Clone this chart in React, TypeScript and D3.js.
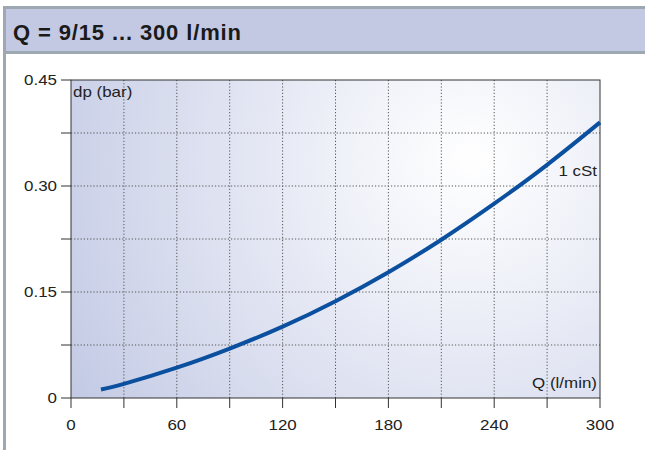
import React from "react";
import * as d3 from "d3";

const flowQ = [17, 30, 60, 90, 120, 150, 180, 210, 240, 270, 300];
const dpBar = [0.012, 0.02, 0.043, 0.07, 0.101, 0.137, 0.178, 0.224, 0.275, 0.33, 0.39];
const xTickValues = [0, 60, 120, 180, 240, 300];
const xMinorTicks = [0, 30, 60, 90, 120, 150, 180, 210, 240, 270, 300];
const yTickValues = [0, 0.15, 0.3, 0.45];
const yTickLabels = ["0", "0.15", "0.30", "0.45"];
const yMinorTicks = [0, 0.075, 0.15, 0.225, 0.3, 0.375, 0.45];
const title = "Q = 9/15 ... 300 l/min";
const curveLabel = "1 cSt";
const xAxisLabel = "Q (l/min)";
const yAxisLabel = "dp (bar)";

const SX = 1.13;

function Label(props: {
  x: number;
  y: number;
  anchor?: "start" | "middle" | "end";
  children: React.ReactNode;
}) {
  return (
    <text
      transform={`translate(${props.x},${props.y}) scale(${SX},1)`}
      textAnchor={props.anchor || "start"}
      fontFamily="'Liberation Sans', Arial, Helvetica, sans-serif"
      fontSize={15}
      fill="#222"
    >
      {props.children}
    </text>
  );
}

export default function App() {
  const W = 645, H = 450;
  const left = 71, right = 600, top = 80, bottom = 398;
  const x = d3.scaleLinear().domain([0, 300]).range([left, right]);
  const y = d3.scaleLinear().domain([0, 0.45]).range([bottom, top]);
  const line = d3
    .line<number>()
    .x((_, i) => x(flowQ[i]))
    .y((d) => y(d))
    .curve(d3.curveNatural);
  const axisColor = "#333";
  return (
    <svg
      width={W}
      height={H}
      style={{ position: "absolute", left: 0, top: 0, background: "#fff" }}
    >
      <defs>
        <radialGradient id="bg" gradientUnits="userSpaceOnUse" cx={470} cy={160} r={470}>
          <stop offset="0" stopColor="#ffffff" />
          <stop offset="0.3" stopColor="#eef0f8" />
          <stop offset="1" stopColor="#c2c9e4" />
        </radialGradient>
      </defs>
      {/* header */}
      <rect x={3} y={6} width={W} height={3} fill="#9ea8b3" />
      <rect x={6} y={9} width={W} height={42} fill="#c3c9e2" />
      <rect x={6} y={51} width={W} height={3} fill="#9ea8b3" />
      <rect x={3} y={6} width={3} height={H} fill="#9ea8b3" />
      <text
        x={13}
        y={39.5}
        fontFamily="'Liberation Sans', Arial, sans-serif"
        fontWeight="bold"
        fontSize={22}
        textLength={228}
        lengthAdjust="spacing"
        fill="#1a1a1a"
      >
        {title}
      </text>
      {/* plot background */}
      <rect x={left} y={top} width={right - left} height={bottom - top} fill="url(#bg)" />
      {/* grid */}
      {xMinorTicks.slice(1, -1).map((t) => (
        <line
          key={"gx" + t}
          x1={x(t)}
          x2={x(t)}
          y1={top}
          y2={bottom}
          stroke="#555"
          strokeWidth={1}
          strokeDasharray="1.2 2"
        />
      ))}
      {yMinorTicks.slice(1, -1).map((t) => (
        <line
          key={"gy" + t}
          x1={left}
          x2={right}
          y1={y(t)}
          y2={y(t)}
          stroke="#555"
          strokeWidth={1}
          strokeDasharray="1.2 2"
        />
      ))}
      {/* frame */}
      <rect
        x={left}
        y={top}
        width={right - left}
        height={bottom - top}
        fill="none"
        stroke={axisColor}
        strokeWidth={1}
      />
      {/* ticks */}
      {xMinorTicks.map((t) => (
        <line key={"tx" + t} x1={x(t)} x2={x(t)} y1={bottom} y2={bottom + 10} stroke={axisColor} />
      ))}
      {yMinorTicks.map((t) => (
        <line key={"ty" + t} x1={left - 10} x2={left} y1={y(t)} y2={y(t)} stroke={axisColor} />
      ))}
      {xTickValues.map((t) => (
        <Label key={"lx" + t} x={x(t)} y={430} anchor="middle">
          {t}
        </Label>
      ))}
      {yTickValues.map((t, i) => (
        <Label key={"ly" + t} x={57} y={y(t) + 5} anchor="end">
          {yTickLabels[i]}
        </Label>
      ))}
      {/* curve */}
      <path d={line(dpBar) || ""} fill="none" stroke="#0b4f9f" strokeWidth={4} strokeLinecap="butt" />
      <Label x={73} y={97}>
        {yAxisLabel}
      </Label>
      <Label x={597} y={176} anchor="end">
        {curveLabel}
      </Label>
      <Label x={597} y={388} anchor="end">
        {xAxisLabel}
      </Label>
    </svg>
  );
}
